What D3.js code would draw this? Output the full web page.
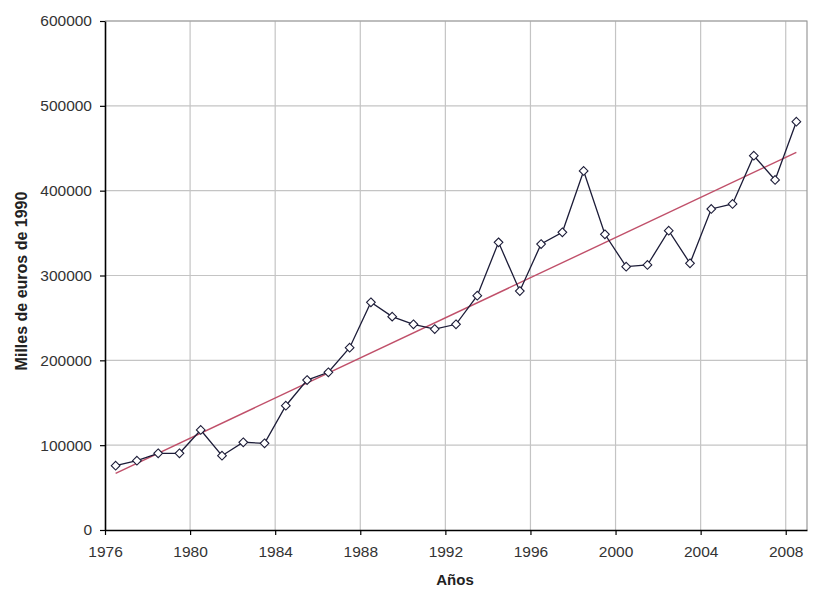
<!DOCTYPE html>
<html>
<head>
<meta charset="utf-8">
<script src="https://cdn.jsdelivr.net/npm/d3@7"></script>
<style>
  body { margin: 0; background: #fff; }
  svg text { font-family: "Liberation Sans", Arial, sans-serif; fill: #222; }
</style>
</head>
<body>
<svg id="chart" width="815" height="589"></svg>
<script>
"use strict";

// data (thousands of 1990 euros)
var years = [1976, 1977, 1978, 1979, 1980, 1981, 1982, 1983, 1984, 1985, 1986,
             1987, 1988, 1989, 1990, 1991, 1992, 1993, 1994, 1995, 1996, 1997,
             1998, 1999, 2000, 2001, 2002, 2003, 2004, 2005, 2006, 2007, 2008];
var values = [75800, 81700, 90400, 90400, 117900, 87600, 103400, 102200, 146500,
              176800, 185900, 214900, 268400, 251500, 242500, 236900, 242500,
              276200, 339100, 281700, 337100, 350900, 423200, 348600, 310400,
              312400, 352800, 314400, 378400, 384300, 441200, 412600, 481300];
// trend line end values (first and last year)
var trendYears = [1976, 2008];
var trendValues = [66800, 445200];

var xTicks = [1976, 1980, 1984, 1988, 1992, 1996, 2000, 2004, 2008];
var yTicks = [0, 100000, 200000, 300000, 400000, 500000, 600000];

var margin = {left: 105, top: 21, right: 8, bottom: 59};
var width = 815 - margin.left - margin.right;
var height = 589 - margin.top - margin.bottom;

var svg = d3.select("#chart");
var g = svg.append("g")
    .attr("transform", "translate(" + margin.left + "," + margin.top + ")");

var x = d3.scaleLinear().domain([1976, 2009]).range([0, width]);
var y = d3.scaleLinear().domain([0, 600000]).range([height, 0]);

// grid
g.append("g").selectAll("line.v")
    .data(xTicks.slice(1))
    .enter().append("line")
    .attr("x1", function(d) { return x(d); })
    .attr("x2", function(d) { return x(d); })
    .attr("y1", 0).attr("y2", height)
    .style("stroke", "#c4c4c4").style("stroke-width", 1.2);

g.append("g").selectAll("line.h")
    .data(yTicks.slice(1))
    .enter().append("line")
    .attr("x1", 0).attr("x2", width)
    .attr("y1", function(d) { return y(d); })
    .attr("y2", function(d) { return y(d); })
    .style("stroke", "#c4c4c4").style("stroke-width", 1.2);

// frame (top/right)
g.append("path")
    .attr("d", "M0,0H" + width + "V" + height)
    .style("fill", "none").style("stroke", "#9a9a9a").style("stroke-width", 1.2);

// axes
var xAxis = d3.axisBottom(x).tickValues(xTicks).tickFormat(d3.format("d"))
    .tickSize(5).tickSizeOuter(0).tickPadding(11);
var yAxis = d3.axisLeft(y).tickValues(yTicks).tickFormat(d3.format("d"))
    .tickSize(5).tickSizeOuter(0).tickPadding(8);

var gx = g.append("g").attr("transform", "translate(0," + height + ")").call(xAxis);
var gy = g.append("g").call(yAxis);

[gx, gy].forEach(function(a) {
    a.select(".domain").style("stroke", "#000").style("stroke-width", 1.6);
    a.selectAll(".tick line").style("stroke", "#000").style("stroke-width", 1.2);
    a.selectAll(".tick text").style("font-size", "15.5px").style("fill", "#333");
});

// trend line
var trend = trendYears.map(function(d, i) { return [d, trendValues[i]]; });
g.append("path")
    .datum(trend)
    .attr("d", d3.line()
        .x(function(d) { return x(d[0] + 0.5); })
        .y(function(d) { return y(d[1]); }))
    .style("fill", "none").style("stroke", "#c0506a").style("stroke-width", 1.4);

// series
var pts = years.map(function(d, i) { return [d, values[i]]; });
g.append("path")
    .datum(pts)
    .attr("d", d3.line()
        .x(function(d) { return x(d[0] + 0.5); })
        .y(function(d) { return y(d[1]); }))
    .style("fill", "none").style("stroke", "#1c1c38").style("stroke-width", 1.3);

var diamond = d3.symbol().type(d3.symbolDiamond2).size(48);
g.selectAll("path.pt")
    .data(pts)
    .enter().append("path")
    .attr("class", "pt")
    .attr("d", diamond)
    .attr("transform", function(d) {
        return "translate(" + x(d[0] + 0.5) + "," + y(d[1]) + ")";
    })
    .style("fill", "#fff").style("stroke", "#1c1c38").style("stroke-width", 1.1);

// axis titles
svg.append("text")
    .attr("transform", "translate(27,281) rotate(-90)")
    .attr("text-anchor", "middle")
    .style("font-size", "16px").style("font-weight", "bold")
    .text("Milles de euros de 1990");

svg.append("text")
    .attr("x", 455).attr("y", 585)
    .attr("text-anchor", "middle")
    .style("font-size", "15px").style("font-weight", "bold")
    .text("Años");
</script>
</body>
</html>
